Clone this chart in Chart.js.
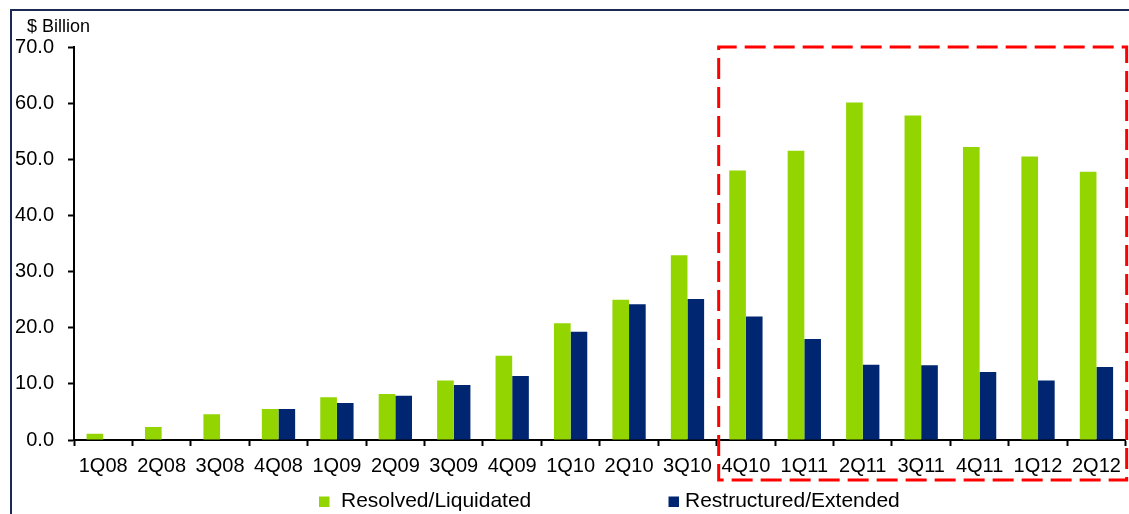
<!DOCTYPE html>
<html>
<head>
<meta charset="utf-8">
<script src="https://cdn.jsdelivr.net/npm/chart.js@4.4.1/dist/chart.umd.min.js"></script>
<style>
  html, body { margin: 0; padding: 0; background: #fff; }
  #wrap { width: 1129px; height: 514px; }
</style>
</head>
<body>
<div id="wrap"><canvas id="loans" width="1129" height="514"></canvas></div>
<script>
// Quarterly loan workouts, $ billion
const quarters = ["1Q08", "2Q08", "3Q08", "4Q08", "1Q09", "2Q09", "3Q09", "4Q09", "1Q10",
  "2Q10", "3Q10", "4Q10", "1Q11", "2Q11", "3Q11", "4Q11", "1Q12", "2Q12"];
const resolved = [1.1, 2.3, 4.6, 5.5, 7.6, 8.2, 10.6, 15.0, 20.8,
  25.0, 32.9, 48.0, 51.5, 60.1, 57.8, 52.2, 50.5, 47.8];
const restructured = [null, null, null, 5.5, 6.6, 7.9, 9.8, 11.4, 19.3,
  24.2, 25.1, 22.0, 18.0, 13.4, 13.3, 12.1, 10.6, 13.0];
const seriesNames = ["Resolved/Liquidated", "Restructured/Extended"];
const yMin = 0, yMax = 70, yStep = 10;
const unitLabel = "$ Billion";

const GREEN = "#93d500";
const NAVY = "#002672";
const FONT = "'Liberation Sans', Arial, sans-serif";

// frame, unit label, highlight box and legend
const extras = {
  id: "extras",
  beforeDraw(chart) {
    const ctx = chart.ctx;
    ctx.save();
    ctx.fillStyle = "#fff";
    ctx.fillRect(0, 0, chart.width, chart.height);
    ctx.strokeStyle = "#1b2a52";
    ctx.lineWidth = 2;
    ctx.beginPath();
    ctx.moveTo(11, chart.height);
    ctx.lineTo(11, 10);
    ctx.lineTo(chart.width, 10);
    ctx.stroke();
    ctx.restore();
  },
  afterDraw(chart) {
    const ctx = chart.ctx;
    const x = chart.scales.x, y = chart.scales.y;
    const area = chart.chartArea;
    ctx.save();

    ctx.fillStyle = "#000";
    ctx.font = "18px " + FONT;
    ctx.textBaseline = "middle";
    ctx.textAlign = "left";
    ctx.fillText(unitLabel, 27, 27);

    // dashed box round the last seven quarters
    const left = (x.getPixelForValue(10) + x.getPixelForValue(11)) / 2 + 2;
    const top = y.getPixelForValue(yMax);
    const right = area.right + 1;
    const bottom = area.bottom + 40;
    ctx.strokeStyle = "#ff0000";
    ctx.lineWidth = 3;
    ctx.setLineDash([21, 8]);
    ctx.lineDashOffset = 3;
    ctx.strokeRect(left, top, right - left, bottom - top);
    ctx.setLineDash([]);

    // legend
    const boxX = [319, 668.5];
    const textX = [341, 685];
    chart.data.datasets.forEach((ds, i) => {
      ctx.fillStyle = ds.backgroundColor;
      ctx.fillRect(boxX[i], 496.5, 10.5, 10.5);
      ctx.fillStyle = "#000";
      ctx.font = "21px " + FONT;
      ctx.fillText(ds.label, textX[i], 501);
    });
    ctx.restore();
  }
};

new Chart(document.getElementById("loans"), {
  type: "bar",
  data: {
    labels: quarters,
    datasets: [
      { label: seriesNames[0], data: resolved, backgroundColor: GREEN },
      { label: seriesNames[1], data: restructured, backgroundColor: NAVY }
    ]
  },
  options: {
    responsive: false,
    animation: false,
    devicePixelRatio: 1,
    layout: { padding: { top: 47, left: 0, right: 3, bottom: 34 } },
    datasets: { bar: { categoryPercentage: 0.57, barPercentage: 1.0 } },
    plugins: {
      legend: { display: false },
      tooltip: { enabled: false }
    },
    scales: {
      x: {
        afterFit: (scale) => { scale.height = 40; },
        grid: { drawOnChartArea: false, drawTicks: true, tickLength: 6, tickColor: "#000", tickWidth: 2, offset: true },
        border: { display: true, color: "#000", width: 2 },
        ticks: { color: "#000", font: { family: FONT, size: 20 }, padding: 8, maxRotation: 0, autoSkip: false }
      },
      y: {
        min: yMin,
        max: yMax,
        afterFit: (scale) => { scale.width = 74; },
        grid: { drawOnChartArea: false, drawTicks: true, tickLength: 6, tickColor: "#000", tickWidth: 2 },
        border: { display: true, color: "#000", width: 2 },
        ticks: {
          stepSize: yStep,
          color: "#000",
          font: { family: FONT, size: 20 },
          padding: 14,
          callback: (v) => v.toFixed(1)
        }
      }
    }
  },
  plugins: [extras]
});
</script>
</body>
</html>
